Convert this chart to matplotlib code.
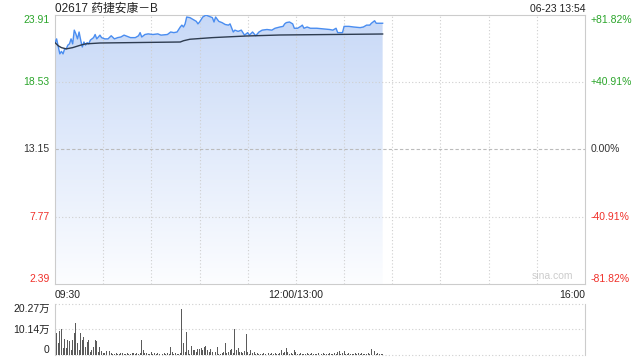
import numpy as np
import matplotlib
matplotlib.use('Agg')
import matplotlib.pyplot as plt
from matplotlib.colors import LinearSegmentedColormap
from matplotlib.patches import Polygon

plt.rcParams['font.family'] = ['Liberation Sans', 'Noto Sans CJK SC', 'DejaVu Sans']

# price readings (minutes after 09:30, lunch break removed)
price_min = [0, 1, 2, 3, 4, 5, 6, 7, 8, 9, 10, 11, 12, 13, 14, 15, 16, 17, 18, 19,
             20, 21, 22, 24, 25, 26, 28, 29, 31, 33, 35, 37, 39, 41, 43, 45, 47, 50, 52, 53,
             54, 56, 58, 61, 64, 66, 70, 72, 74, 76, 78, 79, 80, 81, 82, 84, 86, 88, 89, 90,
             92, 94, 95, 98, 99, 100, 102, 104, 106, 108, 109, 111, 112, 114, 116, 118, 120, 121, 123, 125,
             127, 129, 132, 135, 137, 140, 142, 143, 144, 146, 148, 149, 151, 153, 154, 155, 157, 159, 163, 167,
             171, 173, 175, 176, 177, 179, 180, 183, 186, 190, 192, 194, 196, 197, 199, 200, 201, 203, 204]
price_val = [21.69, 22.0, 21.4, 20.8, 21.0, 20.8, 21.2, 21.2, 21.5, 21.6, 22.0, 21.6, 22.7, 22.4, 22.0, 22.55, 21.9, 21.35, 21.75, 21.5,
             21.7, 21.6, 21.9, 22.1, 22.35, 22.0, 22.3, 22.1, 22.0, 22.0, 22.25, 22.0, 22.1, 22.15, 22.3, 22.2, 22.1, 22.1, 22.25, 22.5,
             22.15, 22.35, 22.4, 22.35, 22.4, 22.3, 22.35, 22.55, 22.5, 22.55, 22.95, 23.1, 22.95, 23.2, 23.75, 23.7, 23.55, 23.4, 23.2, 23.35,
             23.75, 23.9, 23.85, 23.7, 23.35, 23.75, 23.4, 23.3, 23.15, 23.1, 23.2, 22.55, 22.7, 22.6, 22.7, 22.3, 22.5, 22.3, 22.55, 22.25,
             22.55, 22.7, 22.75, 22.7, 22.85, 22.95, 23.0, 23.2, 23.3, 23.35, 23.2, 22.85, 22.85, 23.0, 23.1, 22.85, 22.95, 22.85, 22.85, 22.8,
             22.75, 22.7, 22.85, 22.5, 22.5, 22.5, 23.0, 23.0, 22.95, 22.9, 22.95, 23.1, 23.1, 23.25, 23.45, 23.25, 23.25, 23.25, 23.25]

avg_min = [0, 2, 4, 7, 11, 16, 19, 28, 47, 78, 80, 84, 98, 119, 140, 204]
avg_val = [21.7, 21.45, 21.3, 21.2, 21.3, 21.5, 21.6, 21.67, 21.7, 21.75, 21.85, 21.97, 22.1, 22.23, 22.31, 22.39]

# volume per minute, unit 万
volume = [20.27, 8.7, 4.8, 9.4, 10.4, 2.8, 6.3, 2.8, 5.9, 5.7,
          1.8, 5.9, 8.7, 12.6, 4.6, 1.8, 8.7, 5.9, 7.3, 3.2,
          5.2, 5.9, 1.1, 2.1, 3.2, 5.9, 5.7, 1.1, 3.2, 1.5,
          0.7, 0.8, 1.5, 1.1, 1.5, 0.7,
          0.3, 0.5, 0.8, 0.4, 0.3, 0.6, 0.9, 0.4, 0.3, 0.7, 0.5, 0.3, 0.8, 0.6, 0.4, 0.9, 0.5, 0.7,
          5.9, 1.8,
          0.6, 0.9, 0.4, 0.3, 1.0, 0.5, 0.7, 0.4, 0.8, 0.3, 0.6, 0.5, 0.9, 0.4, 0.7, 0.3, 3.2, 1.1, 0.5, 0.8, 0.4, 0.3, 0.6,
          18.1, 4.6, 1.1, 9.0, 1.8, 0.5, 3.5, 1.8, 2.1, 1.0, 2.5, 2.5, 2.9, 1.8, 3.2, 3.5, 1.8, 1.1, 2.5, 1.1, 0.5, 1.1, 3.2,
          0.5, 0.3, 0.8, 1.2, 4.8, 0.6, 1.1, 1.8, 2.5, 0.9, 10.4, 2.1, 2.9, 1.0, 1.2, 0.8, 1.5, 8.4, 1.1, 0.5,
          2.1, 0.8, 1.2, 0.4, 0.6, 0.3, 0.5, 0.4, 0.7, 0.3, 0.5, 0.8, 0.4, 0.6, 0.3, 0.9, 0.4, 0.5, 0.7, 2.1,
          0.6, 1.1, 2.9, 1.1, 0.5, 0.8, 0.4, 2.1, 1.1, 0.5, 0.3, 0.6, 0.4, 0.3, 0.5, 0.7, 0.3, 0.4, 0.6, 0.3,
          0.5, 0.4, 0.8, 0.3, 0.5, 0.6, 0.4, 0.3, 0.5, 0.7, 0.4, 0.3, 0.6, 0.4, 1.1, 1.5, 0.4, 0.6, 1.5, 0.5,
          0.3, 0.6, 0.4, 0.5, 0.3, 0.6, 0.4, 0.7, 0.4, 0.6, 0.3, 0.5, 0.4, 0.7, 0.5, 2.5, 1.8, 1.5, 0.5, 0.7,
          0.4, 0.3, 0.5]

price_levels = [2.39, 7.77, 13.15, 18.53, 23.91]
price_labels = ['2.39', '7.77', '13.15', '18.53', '23.91']
pct_labels = ['-81.82%', '-40.91%', '0.00%', '+40.91%', '+81.82%']
level_colors = ['#f0302a', '#f0302a', '#333333', '#2aa52a', '#2aa52a']
prev_close = 13.15
vol_levels = [0, 10.14, 20.27]
vol_labels = ['0', '10.14万', '20.27万']
time_ticks = [0, 150, 330]
time_labels = ['09:30', '12:00/13:00', '16:00']

grid_kw = dict(color='#cfcfcf', lw=0.8, linestyle=(0, (1, 2)))

fig = plt.figure(figsize=(6.4, 3.6), dpi=100)
ax = fig.add_axes([55 / 640, 1 - 284 / 360, 530 / 640, 269 / 360])
vx = fig.add_axes([55 / 640, 1 - 355 / 360, 530 / 640, 51 / 360])

ymin, ymax = price_levels[0], price_levels[-1]

# gradient fill below the price line
verts = list(zip(price_min, price_val)) + [(price_min[-1], ymin), (price_min[0], ymin)]
patch = Polygon(verts, facecolor='none', edgecolor='none')
ax.add_patch(patch)
cmap = LinearSegmentedColormap.from_list('fill', ['#fcfdff', '#c8d9f7'])
grad = np.linspace(0, 1, 256).reshape(-1, 1)
img = ax.imshow(grad, extent=[0, price_min[-1], ymin, ymax], origin='lower',
                aspect='auto', cmap=cmap, zorder=1)
img.set_clip_path(patch)

ax.plot(price_min, price_val, color='#4a8df0', lw=1.0, zorder=3)
ax.plot(avg_min, avg_val, color='#2e3c50', lw=1.0, zorder=3)

for m in range(30, 330, 30):
    ax.axvline(m, zorder=2, **grid_kw)
for lv in price_levels[1:-1]:
    if lv == prev_close:
        ax.axhline(lv, zorder=2, color='#bbbbbb', lw=0.8, linestyle=(0, (3, 2)))
    else:
        ax.axhline(lv, zorder=2, **grid_kw)

ax.set_xlim(0, 330)
ax.set_ylim(ymin, ymax)
for s in ax.spines.values():
    s.set_color('#cccccc')
    s.set_linewidth(0.8)

ax.set_yticks(price_levels)
ax.set_yticklabels(price_labels, fontsize=7.5)
ax.tick_params(axis='y', length=0, pad=4)
ax.set_xticks(time_ticks)
ax.set_xticklabels(time_labels, fontsize=7.5, color='#222222')
ax.tick_params(axis='x', length=0, pad=4)
for lab, ha in zip(ax.get_xticklabels(), ['left', 'center', 'right']):
    lab.set_ha(ha)

ax2 = ax.twinx()
ax2.set_ylim(ymin, ymax)
ax2.set_yticks(price_levels)
ax2.set_yticklabels(pct_labels, fontsize=7.5)
ax2.tick_params(axis='y', length=0, pad=4)
for s in ax2.spines.values():
    s.set_visible(False)

vas = ['bottom', 'center', 'center', 'center', 'top']
for labs in (ax.get_yticklabels(), ax2.get_yticklabels()):
    for lab, c, va in zip(labs, level_colors, vas):
        lab.set_color(c)
        lab.set_va(va)

ax.text(0, 1.011, '02617 药捷安康－B', transform=ax.transAxes, fontsize=8.5,
        color='#222222', ha='left', va='baseline')
ax.text(1, 1.011, '06-23 13:54', transform=ax.transAxes, fontsize=7.5,
        color='#222222', ha='right', va='baseline')
ax.text(0.977, 0.01, 'sina.com', transform=ax.transAxes, fontsize=7.5,
        color='#cccccc', ha='right', va='bottom')

# volume panel
vx.bar(np.arange(len(volume)), volume, width=0.6, color='#5a5a5a', zorder=3)
vx.set_xlim(0, 330)
vx.set_ylim(0, vol_levels[-1])
for lv in vol_levels:
    vx.axhline(lv, zorder=2, clip_on=False, **grid_kw)
for side in ['top', 'bottom']:
    vx.spines[side].set_visible(False)
for side in ['left', 'right']:
    vx.spines[side].set_color('#cccccc')
    vx.spines[side].set_linewidth(0.8)
vx.set_xticks([])
vx.set_yticks(vol_levels)
vx.set_yticklabels(vol_labels, fontsize=7.5, color='#222222')
vx.tick_params(axis='y', length=0, pad=4)
for lab, va in zip(vx.get_yticklabels(), ['bottom', 'center', 'top']):
    lab.set_va(va)

fig.savefig('out.png', dpi=100)
